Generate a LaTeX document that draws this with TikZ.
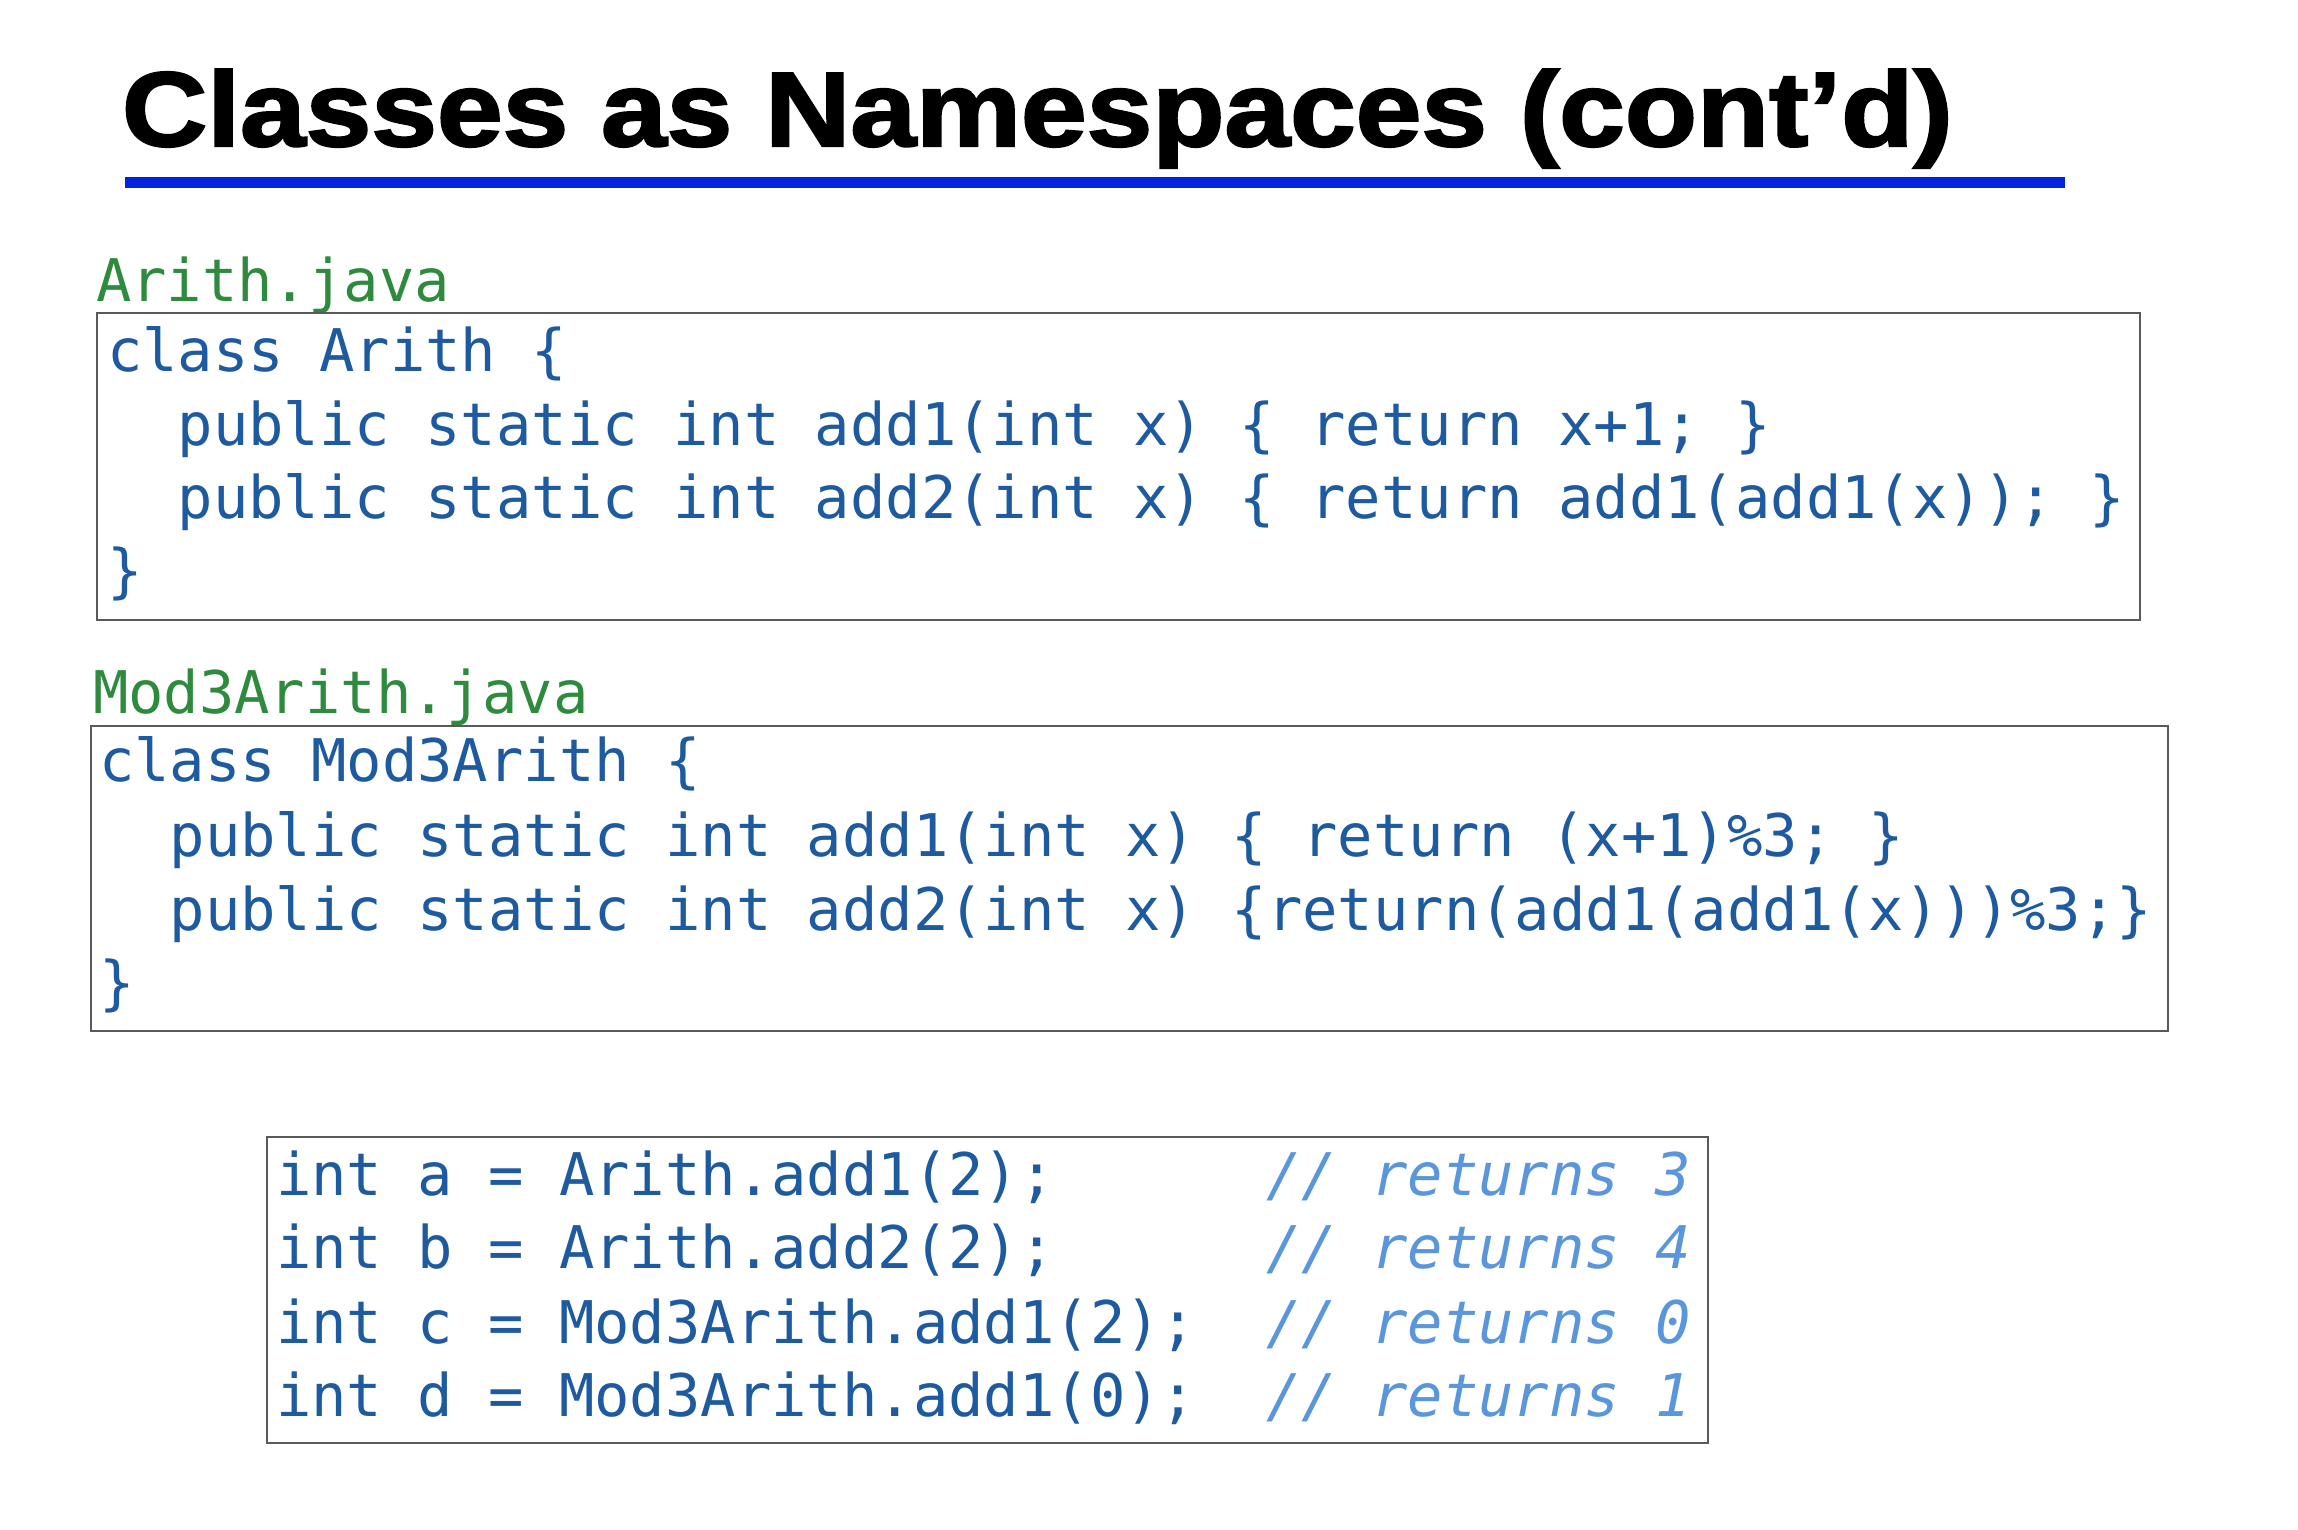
\documentclass[tikz,border=0pt]{standalone}
\usepackage{fontspec}
\setmainfont{Liberation Sans}
\setmonofont{DejaVu Sans Mono}
\newfontfamily\titlefont{Liberation Sans}[BoldFeatures={FakeBold=2}]
\usepackage{graphicx}
\definecolor{codeblue}{RGB}{30,90,160}
\definecolor{filegreen}{RGB}{46,139,62}
\definecolor{cmtblue}{RGB}{90,150,220}
\definecolor{ruleblue}{RGB}{0,36,220}
\definecolor{boxgray}{RGB}{90,90,90}
\tikzset{
  codeline/.style={anchor=base west, inner sep=0pt, outer sep=0pt,
    font=\ttfamily\fontsize{58.8}{70}\selectfont, text=codeblue},
  fileline/.style={codeline, text=filegreen},
  cmtline/.style={codeline, font=\ttfamily\itshape\fontsize{58.8}{70}\selectfont, text=cmtblue},
  codebox/.style={draw=boxgray, line width=2.5pt, anchor=north west, inner sep=0pt, outer sep=0pt},
  titletext/.style={anchor=base west, inner sep=0pt, outer sep=0pt, text=black},
}
\begin{document}
\begin{tikzpicture}[x=1pt,y=-1pt]
\useasboundingbox[fill=white] (0,0) rectangle (2298,1530);
% title
\node[titletext] (title) at (122,146)
  {\resizebox{1831pt}{\height}{\titlefont\fontsize{106}{125}\selectfont\bfseries Classes as Namespaces (cont’d)}};
\coordinate (ruleL) at (125,182.5);
\coordinate (ruleR) at (2065,182.5);
\draw[ruleblue, line width=11.5pt] (ruleL) -- (ruleR);
% Arith.java
\node[fileline] (f1) at (96,301.7) {Arith.java};
\node[codebox, minimum width=2043pt, minimum height=307pt] (box1) at (97,313) {};
\node[codeline] (a1) at (107,371.7) {class Arith \{};
\node[codeline] (a2) at (107,445) {~~public static int add1(int x) \{ return x+1; \}};
\node[codeline] (a3) at (107,518.3) {~~public static int add2(int x) \{ return add1(add1(x)); \}};
\node[codeline] (a4) at (107,591.7) {\}};
% Mod3Arith.java
\node[fileline] (f2) at (93,713.3) {Mod3Arith.java};
\node[codebox, minimum width=2077pt, minimum height=305pt] (box2) at (91,726) {};
\node[codeline] (m1) at (99,781.7) {class Mod3Arith \{};
\node[codeline] (m2) at (99,856.7) {~~public static int add1(int x) \{ return (x+1)\%3; \}};
\node[codeline] (m3) at (99,930) {~~public static int add2(int x) \{return(add1(add1(x)))\%3;\}};
\node[codeline] (m4) at (99,1003.5) {\}};
% usage box
\node[codebox, minimum width=1441pt, minimum height=306pt] (box3) at (267,1137) {};
\node[codeline] (u1) at (276,1195) {int a = Arith.add1(2);};
\node[codeline] (u2) at (276,1268.3) {int b = Arith.add2(2);};
\node[codeline] (u3) at (276,1343.3) {int c = Mod3Arith.add1(2);};
\node[codeline] (u4) at (276,1416.7) {int d = Mod3Arith.add1(0);};
\node[cmtline] (c1) at (1266,1195) {// returns 3};
\node[cmtline] (c2) at (1266,1268.3) {// returns 4};
\node[cmtline] (c3) at (1266,1343.3) {// returns 0};
\node[cmtline] (c4) at (1266,1416.7) {// returns 1};
\end{tikzpicture}
\end{document}
